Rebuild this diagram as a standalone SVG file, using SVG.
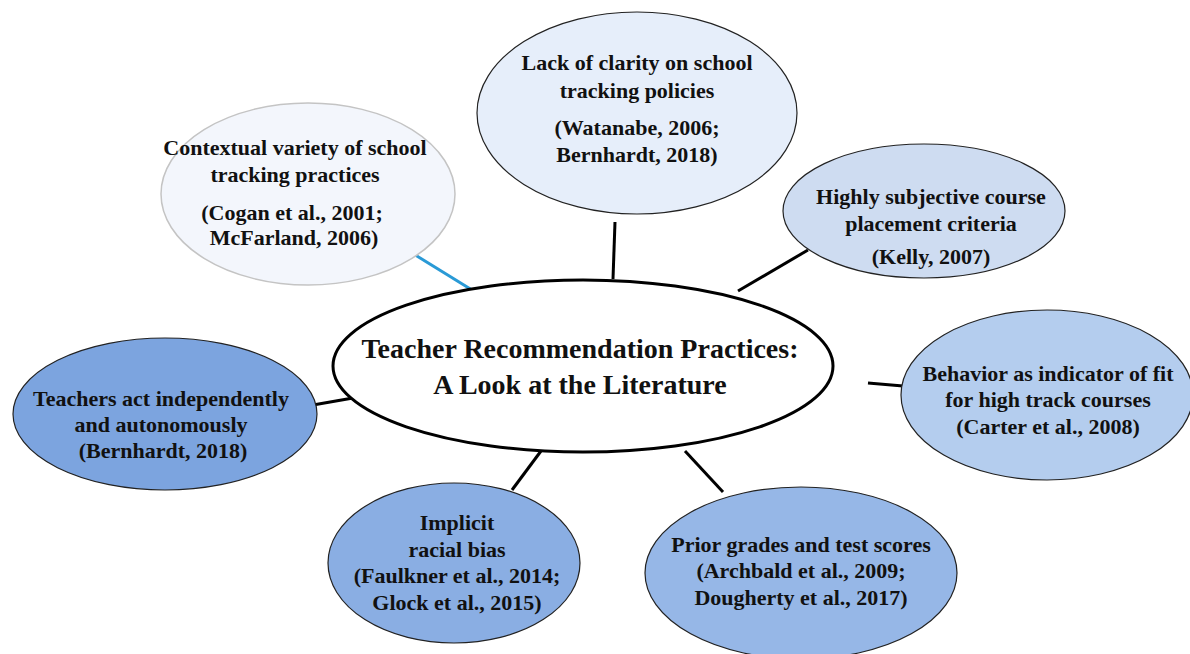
<svg xmlns="http://www.w3.org/2000/svg" width="1190" height="654" viewBox="0 0 1190 654">
  <style>
    .lbl { font-family: "Liberation Serif", "Times New Roman", serif; font-weight: bold; font-size: 22px; fill: #111; text-anchor: middle; }
    .title { font-size: 28px; }
    .edge { stroke: #000; stroke-width: 3; fill: none; }
    .edge-blue { stroke: #2a9ad6; stroke-width: 3; fill: none; }
    .node { stroke: #222; stroke-width: 1.2; }
  </style>
  <rect width="1190" height="654" fill="#fff"/>

  <!-- connectors -->
  <g id="connectors">
    <line class="edge-blue" x1="412" y1="253" x2="472" y2="290"/>
    <line class="edge" x1="615" y1="222" x2="613" y2="279"/>
    <line class="edge" x1="808" y1="250" x2="738" y2="291"/>
    <line class="edge" x1="868" y1="383" x2="903" y2="386"/>
    <line class="edge" x1="313" y1="405" x2="353" y2="398"/>
    <line class="edge" x1="541" y1="451" x2="512" y2="490"/>
    <line class="edge" x1="685" y1="451" x2="723" y2="492"/>
  </g>

  <g id="node-contextual">
    <ellipse cx="308" cy="194" rx="147" ry="91" fill="#f3f6fc" stroke="#c4c4c4" stroke-width="1.5"/>
    <text class="lbl" x="295" y="155">Contextual variety of school</text>
    <text class="lbl" x="295" y="182">tracking practices</text>
    <text class="lbl" x="292" y="220">(Cogan et al., 2001;</text>
    <text class="lbl" x="294" y="245">McFarland, 2006)</text>
  </g>

  <g id="node-clarity">
    <ellipse class="node" cx="637" cy="113" rx="160" ry="101" fill="#e6eefa"/>
    <text class="lbl" x="637" y="70">Lack of clarity on school</text>
    <text class="lbl" x="637" y="98">tracking policies</text>
    <text class="lbl" x="637" y="135">(Watanabe, 2006;</text>
    <text class="lbl" x="637" y="162">Bernhardt, 2018)</text>
  </g>

  <g id="node-subjective">
    <ellipse class="node" cx="924" cy="211" rx="141" ry="67" fill="#cedcf1"/>
    <text class="lbl" x="931" y="204">Highly subjective course</text>
    <text class="lbl" x="931" y="231">placement criteria</text>
    <text class="lbl" x="931" y="264">(Kelly, 2007)</text>
  </g>

  <g id="node-behavior">
    <ellipse class="node" cx="1047" cy="395" rx="146" ry="85" fill="#b4cdee"/>
    <text class="lbl" x="1048" y="381">Behavior as indicator of fit</text>
    <text class="lbl" x="1048" y="407">for high track courses</text>
    <text class="lbl" x="1048" y="434">(Carter et al., 2008)</text>
  </g>

  <g id="node-teachers">
    <ellipse class="node" cx="165" cy="414" rx="152" ry="76" fill="#7ca4df"/>
    <text class="lbl" x="161" y="406">Teachers act independently</text>
    <text class="lbl" x="161" y="432">and autonomously</text>
    <text class="lbl" x="163" y="458">(Bernhardt, 2018)</text>
  </g>

  <g id="node-bias">
    <ellipse class="node" cx="454" cy="563" rx="126" ry="80" fill="#8aaee3"/>
    <text class="lbl" x="457" y="530">Implicit</text>
    <text class="lbl" x="457" y="557">racial bias</text>
    <text class="lbl" x="457" y="583">(Faulkner et al., 2014;</text>
    <text class="lbl" x="457" y="610">Glock et al., 2015)</text>
  </g>

  <g id="node-grades">
    <ellipse class="node" cx="801" cy="573" rx="156" ry="86" fill="#96b7e7"/>
    <text class="lbl" x="801" y="552">Prior grades and test scores</text>
    <text class="lbl" x="801" y="578">(Archbald et al., 2009;</text>
    <text class="lbl" x="801" y="605">Dougherty et al., 2017)</text>
  </g>

  <g id="node-center">
    <ellipse cx="583" cy="366" rx="250" ry="86" fill="#fff" stroke="#000" stroke-width="3"/>
    <text class="lbl title" x="580" y="358">Teacher Recommendation Practices:</text>
    <text class="lbl title" x="580" y="394">A Look at the Literature</text>
  </g>
</svg>
